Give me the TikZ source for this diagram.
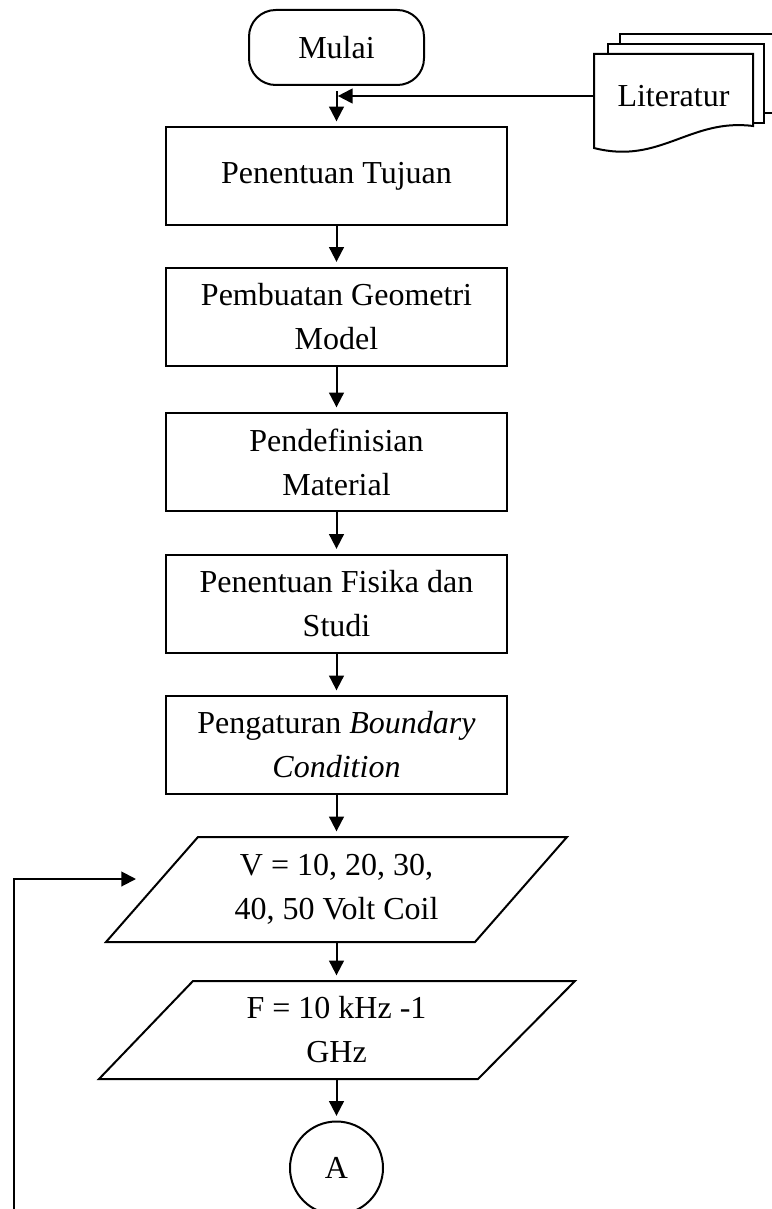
\documentclass[tikz,border=0pt]{standalone}
\usepackage{fontspec}
\setmainfont{Liberation Serif}
\usetikzlibrary{arrows.meta}

\begin{document}
\begin{tikzpicture}[x=0.75pt,y=0.75pt,yscale=-1,xscale=1,
  line width=1.5pt,
  every node/.style={font=\fontsize{24}{33}\selectfont, align=center},
  procbox/.style={draw, rectangle, minimum width=255.75pt, minimum height=73.5pt, inner sep=0pt},
  iotext/.style={inner sep=0pt, minimum width=200pt},
  arr/.style={-{Triangle[length=11pt,width=11pt]}, shorten >=3.5pt}
]
%set diagram to the size of the page
\useasboundingbox (0,0) rectangle (771,1209);

%Shape: Terminator
\node (mulai) [draw, rounded corners=20pt, minimum width=131.25pt, minimum height=56.25pt, inner sep=0pt] at (336.5,47.5) {Mulai};

%Shape: Multi Document
\draw [fill=white] (620,34) rectangle (780,113);
\draw [fill=white] (608,44) rectangle (764,123);
\draw [fill=white] (594,54) -- (753,54) -- (753,126) .. controls (690,118) and (660,165) .. (594,148) -- cycle;
% Text Node
\node (literatur) [minimum width=119.25pt, inner sep=0pt] at (673.5,96) {Literatur};

%Shape: Rectangle
\node (tujuan) [procbox] at (336.5,176) {Penentuan Tujuan};
\node (geometri) [procbox] at (336.5,316.5) {Pembuatan Geometri\\Model};
\node (material) [procbox] at (336.5,462) {Pendefinisian\\Material};
\node (fisika) [procbox] at (336.5,603.5) {Penentuan Fisika dan\\Studi};
\node (boundary) [procbox] at (336.5,745) {Pengaturan \textit{Boundary}\\\textit{Condition}};

%Shape: Parallelogram
\draw (198,837) -- (567,837) -- (475,942) -- (106,942) -- cycle;
% Text Node
\node (volt) [iotext, minimum height=78.75pt] at (336.5,889.5) {V = 10, 20, 30,\\40, 50 Volt Coil};
%Shape: Parallelogram
\draw (193,981) -- (575,981) -- (478,1079) -- (99,1079) -- cycle;
% Text Node
\node (freq) [iotext, minimum height=73.5pt] at (336.5,1030) {F = 10 kHz -1\\GHz};

%Shape: Circle
\node (konektor) [draw, circle, minimum size=69.75pt, inner sep=0pt] at (336.5,1168) {A};

%Straight Lines
\draw [arr, shorten <=4pt] (mulai) -- (tujuan);
\draw [arr, shorten >=1pt] (literatur.west) -- (literatur.west -| mulai.south);
\draw [arr] (tujuan) -- (geometri);
\draw [arr] (geometri) -- (material);
\draw [arr] (material) -- (fisika);
\draw [arr] (fisika) -- (boundary);
\draw [arr] (boundary) -- (volt);
\draw [arr] (volt) -- (freq);
\draw [arr] (freq) -- (konektor);

%Straight Lines
\coordinate (balik) at (14,1215);
\coordinate (masuk) at (136,879);
\draw [arr, shorten >=0pt] (balik) |- (masuk);

\end{tikzpicture}
\end{document}
